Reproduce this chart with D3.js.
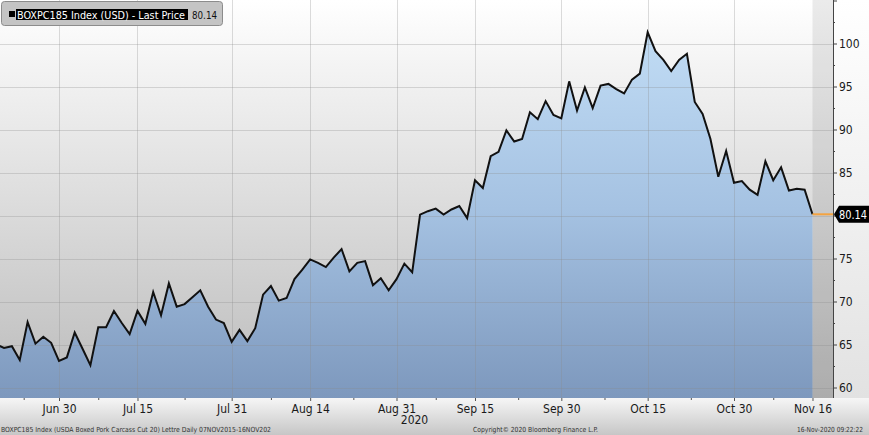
<!DOCTYPE html>
<html><head><meta charset="utf-8">
<script src="https://cdn.jsdelivr.net/npm/d3@7"></script>
<style>html,body{margin:0;padding:0;background:#fff}svg{display:block}</style>
</head><body>
<svg id="c" width="869" height="435"></svg>
<script>
const dates = [
"2020-06-18","2020-06-19","2020-06-22","2020-06-23","2020-06-24","2020-06-25","2020-06-26","2020-06-29","2020-06-30",
"2020-07-01","2020-07-02","2020-07-06","2020-07-07","2020-07-08","2020-07-09","2020-07-10","2020-07-13","2020-07-14","2020-07-15","2020-07-16","2020-07-17","2020-07-20","2020-07-21","2020-07-22","2020-07-23","2020-07-24","2020-07-27","2020-07-28","2020-07-29","2020-07-30","2020-07-31",
"2020-08-03","2020-08-04","2020-08-05","2020-08-06","2020-08-07","2020-08-10","2020-08-11","2020-08-12","2020-08-13","2020-08-14","2020-08-17","2020-08-18","2020-08-19","2020-08-20","2020-08-21","2020-08-24","2020-08-25","2020-08-26","2020-08-27","2020-08-28","2020-08-31",
"2020-09-01","2020-09-02","2020-09-03","2020-09-04","2020-09-08","2020-09-09","2020-09-10","2020-09-11","2020-09-14","2020-09-15","2020-09-16","2020-09-17","2020-09-18","2020-09-21","2020-09-22","2020-09-23","2020-09-24","2020-09-25","2020-09-28","2020-09-29","2020-09-30",
"2020-10-01","2020-10-02","2020-10-05","2020-10-06","2020-10-07","2020-10-08","2020-10-09","2020-10-12","2020-10-13","2020-10-14","2020-10-15","2020-10-16","2020-10-19","2020-10-20","2020-10-21","2020-10-22","2020-10-23","2020-10-26","2020-10-27","2020-10-28","2020-10-29","2020-10-30",
"2020-11-02","2020-11-03","2020-11-04","2020-11-05","2020-11-06","2020-11-09","2020-11-10","2020-11-12","2020-11-13","2020-11-16"
];
const prices = [
65.0,64.6,64.8,63.2,67.6,65.1,65.9,65.2,63.1,
63.5,66.4,64.5,62.6,67.0,67.0,68.9,67.5,66.2,68.9,67.4,71.1,68.4,72.1,69.4,69.7,70.5,71.3,69.4,67.9,67.5,65.3,
66.7,65.4,66.9,70.8,71.8,70.1,70.4,72.6,73.7,74.9,74.5,74.0,75.1,76.1,73.5,74.5,74.7,71.9,72.7,71.3,72.6,
74.4,73.4,80.1,80.5,80.8,80.1,80.7,81.1,79.7,84.1,83.2,86.9,87.4,89.9,88.6,88.9,92.0,91.2,93.3,91.7,91.3,
95.6,92.2,94.9,92.5,95.1,95.3,94.7,94.2,95.8,96.5,101.3,99.1,98.1,96.8,98.1,98.8,93.2,91.8,88.9,84.5,87.5,83.8,
84.0,83.0,82.4,86.3,84.1,85.6,82.9,83.1,83.0,80.14
];
const tickDates = ["2020-06-30","2020-07-15","2020-07-31","2020-08-14","2020-08-31","2020-09-15","2020-09-30","2020-10-15","2020-10-30","2020-11-16"];
const tickLabels = ["Jun 30","Jul 15","Jul 31","Aug 14","Aug 31","Sep 15","Sep 30","Oct 15","Oct 30","Nov 16"];
const yTicks = [60,65,70,75,80,85,90,95,100];
const lastPrice = 80.14;
const legendName = "BOXPC185 Index (USD) - Last Price";
const footerLeft = "BOXPC185 Index (USDA Boxed Pork Carcass Cut 20) Lettre  Daily 07NOV2015-16NOV202";
const footerMid = "Copyright\u00a9 2020 Bloomberg Finance L.P.";
const footerRight = "16-Nov-2020 09:22:22";

const W = 869, H = 435, plotR = 833, plotB = 398;
const svg = d3.select("#c");
const defs = svg.append("defs");
const font = "'DejaVu Sans Condensed','DejaVu Sans',sans-serif";

function vgrad(id, stops, y1, y2){
  const g = defs.append("linearGradient").attr("id", id).attr("gradientUnits","userSpaceOnUse")
    .attr("x1",0).attr("x2",0).attr("y1",y1).attr("y2",y2);
  stops.forEach(s => g.append("stop").attr("offset", s[0]).attr("stop-color", s[1]));
}
vgrad("bg", [[0,"#ffffff"],[1,"#bbbbbb"]], 0, plotB);
vgrad("fillg", [[0,"#c3def6"],[0.5,"#a5c2e2"],[1,"#7d98bd"]], 20, plotB);
vgrad("botg", [[0,"#f6f6f6"],[1,"#c6c6c6"]], plotB, H);
vgrad("rightg", [[0,"#ffffff"],[1,"#e2e2e2"]], 0, plotB);

// backgrounds
svg.append("rect").attr("x",0).attr("y",0).attr("width",W).attr("height",H).attr("fill","url(#rightg)");
svg.append("rect").attr("x",0).attr("y",0).attr("width",plotR).attr("height",plotB).attr("fill","url(#bg)");
svg.append("rect").attr("x",0).attr("y",plotB).attr("width",W).attr("height",H-plotB).attr("fill","url(#botg)");

const idx = dates.map((d,i)=>i);
const x = d3.scaleLinear().domain([8, 94]).range([59, 734]);
const y = d3.scaleLinear().domain([60, 100]).range([387.5, 43.5]);

defs.append("clipPath").attr("id","clip").append("rect").attr("x",0).attr("y",0).attr("width",plotR).attr("height",plotB);
const plot = svg.append("g").attr("clip-path","url(#clip)");

// strip after last point
plot.append("rect").attr("x", x(idx.length-1)).attr("y",0).attr("width", plotR - x(idx.length-1)).attr("height", plotB)
  .attr("fill","#000").attr("fill-opacity",0.08);

const area = d3.area().x((d,i)=>x(i)).y0(plotB).y1(d=>y(d));
plot.append("path").datum(prices).attr("d", area).attr("fill","url(#fillg)");

// grid lines
const tickIdx = tickDates.map(d => dates.indexOf(d));
plot.append("g").selectAll("line").data(yTicks).join("line")
  .attr("x1",0).attr("x2",plotR).attr("y1",d=>Math.round(y(d))+0.5).attr("y2",d=>Math.round(y(d))+0.5)
  .attr("stroke","#8a8a8a").attr("stroke-opacity",0.3).attr("stroke-width",1);
plot.append("g").selectAll("line").data(tickIdx.slice(0,-1)).join("line")
  .attr("y1",0).attr("y2",plotB).attr("x1",d=>Math.round(x(d))+0.5).attr("x2",d=>Math.round(x(d))+0.5)
  .attr("stroke","#8a8a8a").attr("stroke-opacity",0.3).attr("stroke-width",1);

const line = d3.line().x((d,i)=>x(i)).y(d=>y(d));
plot.append("path").datum(prices).attr("d", line).attr("fill","none").attr("stroke","#111")
  .attr("stroke-width",2).attr("stroke-linejoin","miter");

// last price orange line
svg.append("line").attr("x1", x(idx.length-1)).attr("x2", plotR).attr("y1", y(lastPrice)).attr("y2", y(lastPrice))
  .attr("stroke","#f4a340").attr("stroke-width",2);

// right axis (the 80 label is covered by the last-price tag, as in the reference)
const yAxis = d3.axisRight(y).tickValues([...yTicks,105]).tickSize(4).tickPadding(2)
  .tickFormat(d => (d===105 || d===80) ? "" : d);
const ya = svg.append("g").attr("transform",`translate(${plotR},0)`).call(yAxis);
ya.select(".domain").attr("d",`M0.5,0V${plotB}`).attr("stroke","#444");
ya.selectAll(".tick line").attr("stroke","#444");
ya.selectAll(".tick text").attr("font-family",font).attr("font-size",12).attr("fill","#1a1a1a");
const yMinor = d3.axisRight(y).tickValues(d3.range(62.5,105,5)).tickSize(2).tickFormat("");
const ym = svg.append("g").attr("transform",`translate(${plotR},0)`).call(yMinor);
ym.select(".domain").remove();
ym.selectAll(".tick line").attr("stroke","#444");

// value label
const ly = y(lastPrice);
svg.append("path").attr("d",`M${plotR+1},${ly} L${plotR+6},${ly-8.5} H${W} V${ly+8.5} H${plotR+6} Z`).attr("fill","#000");
svg.append("text").attr("x",plotR+6).attr("y",ly+4.5).attr("font-family",font).attr("font-size",12)
  .attr("fill","#fff").attr("textLength",28).attr("lengthAdjust","spacingAndGlyphs").text(lastPrice.toFixed(2));

// bottom axis
const xAxis = d3.axisBottom(x).tickValues(tickIdx).tickSize(3).tickPadding(3).tickFormat((d,i)=>tickLabels[i]);
const xa = svg.append("g").attr("transform",`translate(0,${plotB})`).call(xAxis);
xa.select(".domain").remove();
xa.selectAll(".tick line").attr("stroke","#555");
xa.selectAll(".tick text").attr("font-family",font).attr("font-size",12).attr("fill","#1a1a1a");
const mids = [tickIdx[0]-4.5, ...tickIdx.slice(1).map((d,i)=>(d+tickIdx[i])/2)];
const xMinor = d3.axisBottom(x).tickValues(mids).tickSize(2).tickFormat("");
const xm = svg.append("g").attr("transform",`translate(0,${plotB})`).call(xMinor);
xm.select(".domain").remove();
xm.selectAll(".tick line").attr("stroke","#555");

svg.append("text").attr("x", x(dates.indexOf("2020-08-31"))+18).attr("y",424).attr("text-anchor","middle")
  .attr("font-family",font).attr("font-size",12).attr("fill","#1a1a1a").text("2020");

// footer
const ft = svg.append("g").attr("font-family",font).attr("font-size",7).attr("fill","#333");
ft.append("text").attr("x",1).attr("y",432).attr("textLength",270).attr("lengthAdjust","spacingAndGlyphs").text(footerLeft);
ft.append("text").attr("x",473).attr("y",432).attr("textLength",125).attr("lengthAdjust","spacingAndGlyphs").text(footerMid);
ft.append("text").attr("x",797).attr("y",432).attr("textLength",66).attr("lengthAdjust","spacingAndGlyphs").text(footerRight);

// legend
const lg = svg.append("g");
lg.append("rect").attr("x",1.5).attr("y",1.5).attr("width",221).attr("height",24).attr("rx",3)
  .attr("fill","#c4c4c4").attr("stroke","#8c8c8c");
lg.append("rect").attr("x",9).attr("y",11).attr("width",6).attr("height",6).attr("fill","#000");
lg.append("rect").attr("x",16).attr("y",9).attr("width",172).attr("height",11).attr("fill","#000");
lg.append("text").attr("x",17).attr("y",18.5).attr("font-family",font).attr("font-size",10.5).attr("fill","#fff")
  .attr("textLength",168).attr("lengthAdjust","spacingAndGlyphs").text(legendName);
lg.append("text").attr("x",192).attr("y",18.5).attr("font-family",font).attr("font-size",11).attr("fill","#111")
  .attr("textLength",25).attr("lengthAdjust","spacingAndGlyphs").text(lastPrice.toFixed(2));
</script>
</body></html>
